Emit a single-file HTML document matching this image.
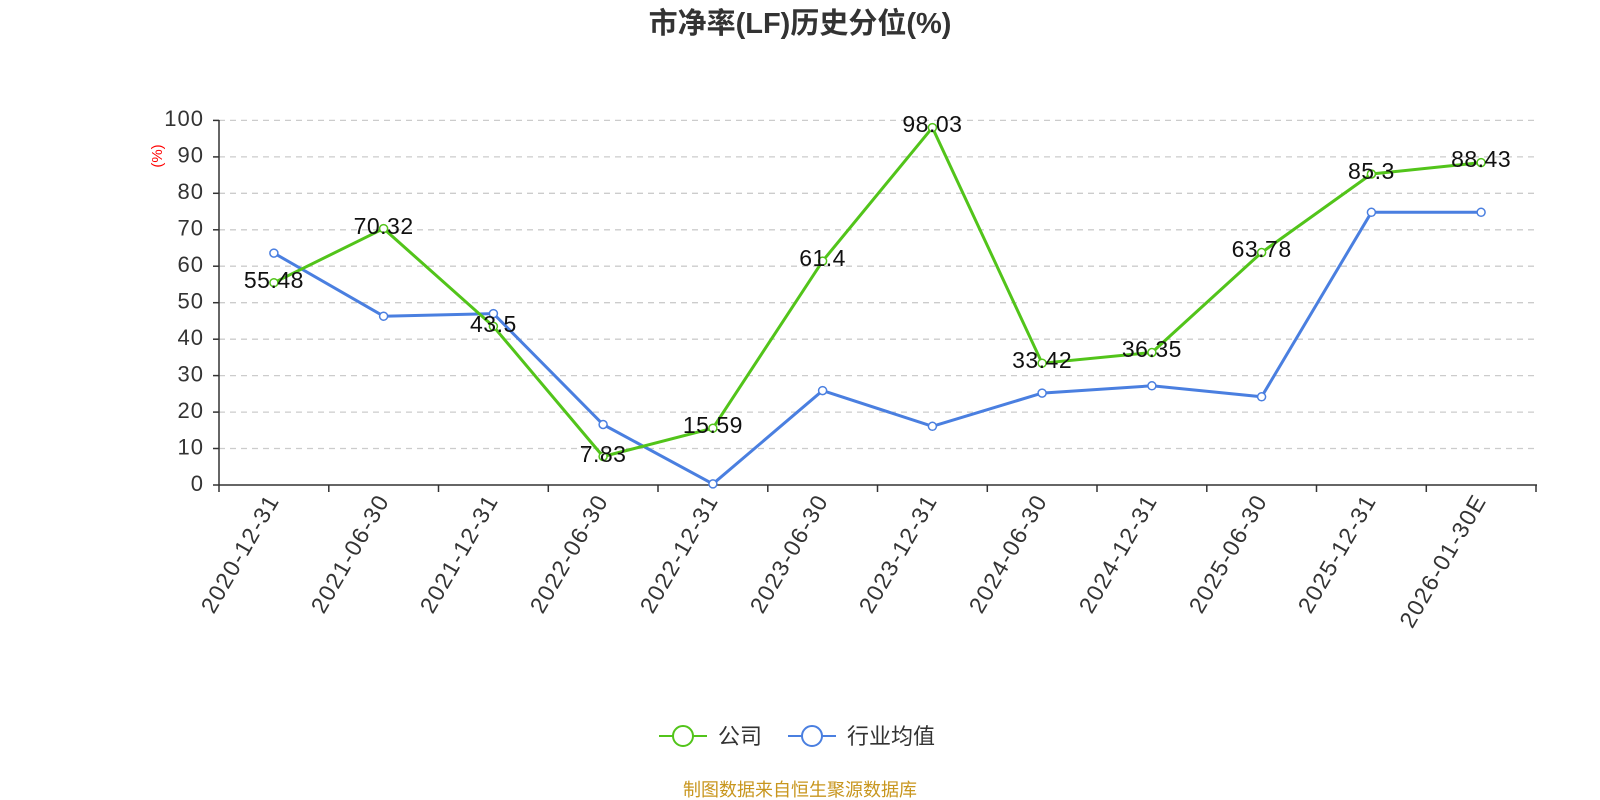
<!DOCTYPE html>
<html><head><meta charset="utf-8"><style>body{margin:0;background:#fff}svg{display:block;font-family:"Liberation Sans","Noto Sans CJK SC",sans-serif}</style></head><body>
<svg width="1600" height="800" viewBox="0 0 1600 800">
<text x="800" y="33" text-anchor="middle" font-size="29" font-weight="bold" fill="#333">市净率(LF)历史分位(%)</text>
<g stroke="#ccc" stroke-dasharray="6,5" stroke-width="1.3">
<line x1="219" x2="1536" y1="448.5" y2="448.5"/><line x1="219" x2="1536" y1="412.1" y2="412.1"/><line x1="219" x2="1536" y1="375.6" y2="375.6"/><line x1="219" x2="1536" y1="339.2" y2="339.2"/><line x1="219" x2="1536" y1="302.7" y2="302.7"/><line x1="219" x2="1536" y1="266.2" y2="266.2"/><line x1="219" x2="1536" y1="229.8" y2="229.8"/><line x1="219" x2="1536" y1="193.3" y2="193.3"/><line x1="219" x2="1536" y1="156.9" y2="156.9"/><line x1="219" x2="1536" y1="120.4" y2="120.4"/>
</g>
<g stroke="#333" stroke-width="1.5">
<line x1="219" y1="120" x2="219" y2="485"/><line x1="219" y1="485" x2="1537" y2="485"/>
<line x1="213" x2="219" y1="485" y2="485"/><line x1="213" x2="219" y1="448.5" y2="448.5"/><line x1="213" x2="219" y1="412.1" y2="412.1"/><line x1="213" x2="219" y1="375.6" y2="375.6"/><line x1="213" x2="219" y1="339.2" y2="339.2"/><line x1="213" x2="219" y1="302.7" y2="302.7"/><line x1="213" x2="219" y1="266.2" y2="266.2"/><line x1="213" x2="219" y1="229.8" y2="229.8"/><line x1="213" x2="219" y1="193.3" y2="193.3"/><line x1="213" x2="219" y1="156.9" y2="156.9"/><line x1="213" x2="219" y1="120.4" y2="120.4"/>
<line x1="219" x2="219" y1="485" y2="492"/><line x1="328.8" x2="328.8" y1="485" y2="492"/><line x1="438.5" x2="438.5" y1="485" y2="492"/><line x1="548.3" x2="548.3" y1="485" y2="492"/><line x1="658" x2="658" y1="485" y2="492"/><line x1="767.8" x2="767.8" y1="485" y2="492"/><line x1="877.5" x2="877.5" y1="485" y2="492"/><line x1="987.3" x2="987.3" y1="485" y2="492"/><line x1="1097" x2="1097" y1="485" y2="492"/><line x1="1206.8" x2="1206.8" y1="485" y2="492"/><line x1="1316.5" x2="1316.5" y1="485" y2="492"/><line x1="1426.3" x2="1426.3" y1="485" y2="492"/><line x1="1536" x2="1536" y1="485" y2="492"/>
</g>
<g font-size="22" fill="#333" text-anchor="end" dominant-baseline="middle" letter-spacing="1">
<text x="204" y="485">0</text><text x="204" y="448.5">10</text><text x="204" y="412.1">20</text><text x="204" y="375.6">30</text><text x="204" y="339.2">40</text><text x="204" y="302.7">50</text><text x="204" y="266.2">60</text><text x="204" y="229.8">70</text><text x="204" y="193.3">80</text><text x="204" y="156.9">90</text><text x="204" y="120.4">100</text>
</g>
<text transform="translate(162,156) rotate(-90)" font-size="15" fill="red" text-anchor="middle">(%)</text>
<g font-size="23" fill="#333" text-anchor="end" letter-spacing="1.5">
<text transform="translate(280,500) rotate(-60)">2020-12-31</text>
<text transform="translate(390,500) rotate(-60)">2021-06-30</text>
<text transform="translate(499,500) rotate(-60)">2021-12-31</text>
<text transform="translate(609,500) rotate(-60)">2022-06-30</text>
<text transform="translate(719,500) rotate(-60)">2022-12-31</text>
<text transform="translate(829,500) rotate(-60)">2023-06-30</text>
<text transform="translate(938,500) rotate(-60)">2023-12-31</text>
<text transform="translate(1048,500) rotate(-60)">2024-06-30</text>
<text transform="translate(1158,500) rotate(-60)">2024-12-31</text>
<text transform="translate(1268,500) rotate(-60)">2025-06-30</text>
<text transform="translate(1377,500) rotate(-60)">2025-12-31</text>
<text transform="translate(1487,500) rotate(-60)">2026-01-30E</text>
</g>
<polyline fill="none" stroke="#4a7fe0" stroke-width="3" points="273.9,253.1 383.6,316.2 493.4,313.6 603.1,424.5 712.9,483.9 822.6,390.6 932.4,426.3 1042.1,393.1 1151.9,385.8 1261.6,396.8 1371.4,212.3 1481.1,212.3"/>
<g fill="#fff" stroke="#4a7fe0" stroke-width="1.5">
<circle cx="273.9" cy="253.1" r="4"/><circle cx="383.6" cy="316.2" r="4"/><circle cx="493.4" cy="313.6" r="4"/><circle cx="603.1" cy="424.5" r="4"/><circle cx="712.9" cy="483.9" r="4"/><circle cx="822.6" cy="390.6" r="4"/><circle cx="932.4" cy="426.3" r="4"/><circle cx="1042.1" cy="393.1" r="4"/><circle cx="1151.9" cy="385.8" r="4"/><circle cx="1261.6" cy="396.8" r="4"/><circle cx="1371.4" cy="212.3" r="4"/><circle cx="1481.1" cy="212.3" r="4"/>
</g>
<polyline fill="none" stroke="#52c41a" stroke-width="3" points="273.9,282.7 383.6,228.6 493.4,326.4 603.1,456.5 712.9,428.2 822.6,261.1 932.4,127.6 1042.1,363.2 1151.9,352.5 1261.6,252.5 1371.4,174 1481.1,162.6"/>
<g fill="#fff" stroke="#52c41a" stroke-width="1.5">
<circle cx="273.9" cy="282.7" r="4"/><circle cx="383.6" cy="228.6" r="4"/><circle cx="493.4" cy="326.4" r="4"/><circle cx="603.1" cy="456.5" r="4"/><circle cx="712.9" cy="428.2" r="4"/><circle cx="822.6" cy="261.1" r="4"/><circle cx="932.4" cy="127.6" r="4"/><circle cx="1042.1" cy="363.2" r="4"/><circle cx="1151.9" cy="352.5" r="4"/><circle cx="1261.6" cy="252.5" r="4"/><circle cx="1371.4" cy="174" r="4"/><circle cx="1481.1" cy="162.6" r="4"/>
</g>
<g font-size="23" fill="#111" text-anchor="middle" dominant-baseline="middle" letter-spacing="0.5">
<text x="273.9" y="282">55.48</text><text x="383.6" y="228">70.32</text><text x="493.4" y="326">43.5</text><text x="603.1" y="456">7.83</text><text x="712.9" y="427">15.59</text><text x="822.6" y="260">61.4</text><text x="932.4" y="126">98.03</text><text x="1042.1" y="362">33.42</text><text x="1151.9" y="351">36.35</text><text x="1261.6" y="251">63.78</text><text x="1371.4" y="173">85.3</text><text x="1481.1" y="161">88.43</text>
</g>
<line x1="659" x2="707" y1="736" y2="736" stroke="#52c41a" stroke-width="2"/>
<circle cx="683" cy="736" r="10" fill="#fff" stroke="#52c41a" stroke-width="2"/>
<text x="718" y="744" font-size="22" fill="#333">公司</text>
<line x1="788" x2="836" y1="736" y2="736" stroke="#4a7fe0" stroke-width="2"/>
<circle cx="812" cy="736" r="10" fill="#fff" stroke="#4a7fe0" stroke-width="2"/>
<text x="847" y="744" font-size="22" fill="#333">行业均值</text>
<text x="800" y="796" text-anchor="middle" font-size="18" fill="#c8961e">制图数据来自恒生聚源数据库</text>
</svg>
</body></html>
